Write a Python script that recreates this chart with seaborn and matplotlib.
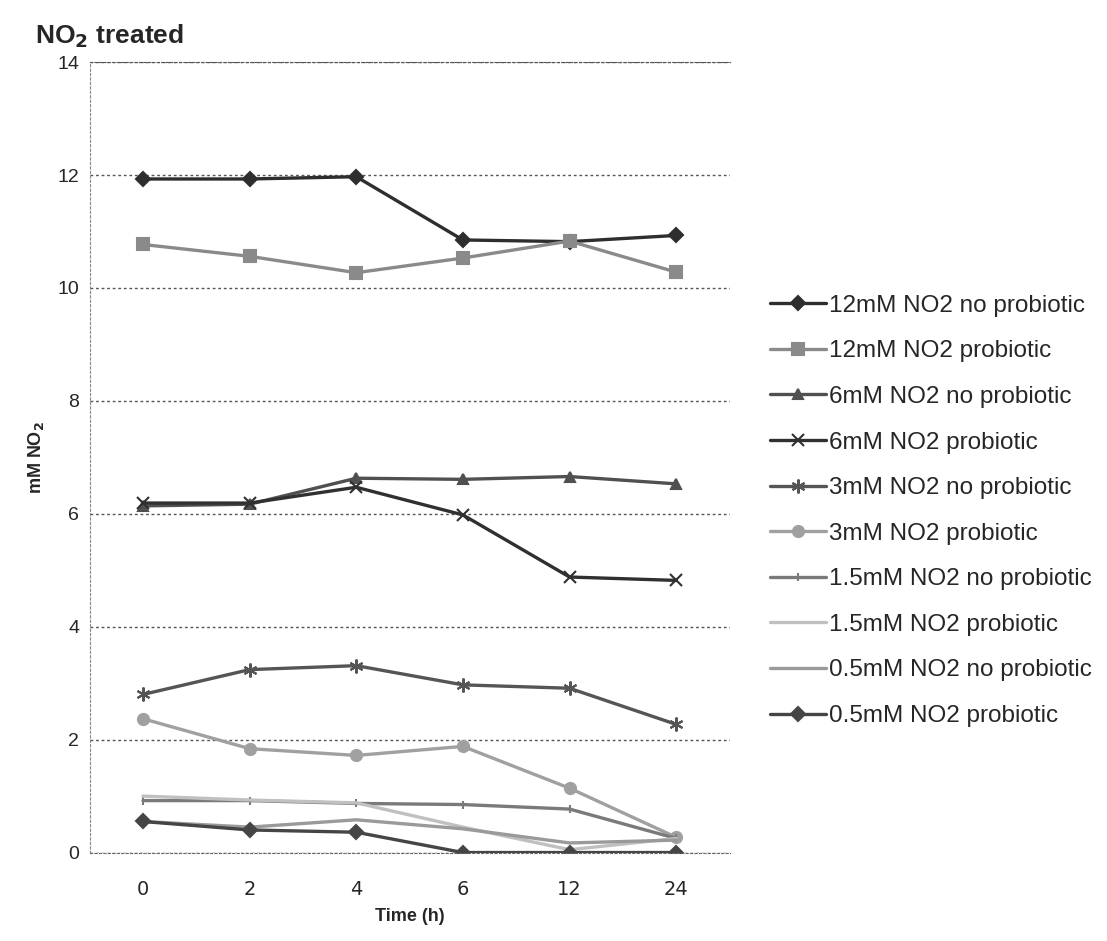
import numpy as np
import pandas as pd
import matplotlib
matplotlib.use("Agg")
import matplotlib.pyplot as plt
import seaborn as sns

# data
times = ["0", "2", "4", "6", "12", "24"]
series_names = [
    "12mM NO2 no probiotic", "12mM NO2 probiotic",
    "6mM NO2 no probiotic", "6mM NO2 probiotic",
    "3mM NO2 no probiotic", "3mM NO2 probiotic",
    "1.5mM NO2 no probiotic", "1.5mM NO2 probiotic",
    "0.5mM NO2 no probiotic", "0.5mM NO2 probiotic",
]
no2_12_no = [11.93, 11.93, 11.97, 10.85, 10.82, 10.93]
no2_12_pro = [10.77, 10.56, 10.27, 10.53, 10.83, 10.28]
no2_6_no = [6.14, 6.17, 6.63, 6.61, 6.66, 6.53]
no2_6_pro = [6.19, 6.19, 6.47, 5.98, 4.88, 4.82]
no2_3_no = [2.80, 3.24, 3.31, 2.97, 2.91, 2.27]
no2_3_pro = [2.37, 1.84, 1.72, 1.88, 1.14, 0.27]
no2_15_no = [0.92, 0.92, 0.87, 0.85, 0.77, 0.25]
no2_15_pro = [1.00, 0.93, 0.88, 0.45, 0.05, 0.25]
no2_05_no = [0.55, 0.45, 0.58, 0.42, 0.17, 0.22]
no2_05_pro = [0.55, 0.40, 0.36, 0.0, 0.0, 0.0]

all_vals = [no2_12_no, no2_12_pro, no2_6_no, no2_6_pro, no2_3_no,
            no2_3_pro, no2_15_no, no2_15_pro, no2_05_no, no2_05_pro]

colors = ["#2e2e2e", "#8a8a8a", "#505050", "#303030", "#555555",
          "#a0a0a0", "#7a7a7a", "#c0c0c0", "#9a9a9a", "#454545"]
markers = ["D", "s", "^", "x", (6, 2, 0), "o", "|", None, None, "D"]
msizes = [7, 9, 7, 9, 10, 8, 6, 0, 0, 7]

sns.set_style("white")
plt.rcParams["font.family"] = ["Liberation Sans", "DejaVu Sans"]

fig = plt.figure(figsize=(11.07, 9.41), dpi=100)
ax = fig.add_axes([0.081, 0.094, 0.578, 0.84])

pos = np.arange(len(times))
for name, vals, c, m, ms in zip(series_names, all_vals, colors, markers, msizes):
    sns.lineplot(x=pos, y=vals, ax=ax, color=c, linewidth=2.4, marker=m,
                 markersize=ms, markeredgecolor=c, markerfacecolor=c,
                 markeredgewidth=1.5, label=name)

ax.set_xlim(-0.5, 5.5)
ax.set_ylim(0, 14)
ax.set_yticks(np.arange(0, 15, 2))
ax.set_xticks(pos)
ax.set_xticklabels(times, fontsize=14, family="DejaVu Sans")
ax.tick_params(axis="y", labelsize=14, length=4, color="#777777")
ax.tick_params(axis="x", which="major", length=0, pad=20)
ax.set_xticks(np.arange(0.5, 5.5, 1), minor=True)
ax.tick_params(axis="x", which="minor", length=5, color="#777777", direction="out")

ax.yaxis.grid(True, linestyle=(0, (2, 2)), color="#555555", linewidth=1)
ax.xaxis.grid(False)
ax.spines["right"].set_visible(False)
ax.spines["top"].set_linestyle((0, (2, 2)))
ax.spines["top"].set_color("#555555")
ax.spines["left"].set_linestyle((0, (2, 2)))
ax.spines["left"].set_color("#888888")
ax.spines["bottom"].set_linestyle((0, (2, 2)))
ax.spines["bottom"].set_color("#666666")

ax.set_xlabel("Time (h)", fontsize=13, fontweight="bold", labelpad=6)
ax.set_ylabel("mM NO$_\\mathbf{2}$", fontsize=13, fontweight="bold", labelpad=8)

fig.text(0.032, 0.962, "NO$_\\mathbf{2}$ treated", fontsize=19, fontweight="bold",
         va="center", ha="left")

ax.legend(loc="upper left", bbox_to_anchor=(1.048, 0.718), frameon=False,
          fontsize=17.5, handlelength=2.3, handletextpad=0.15, labelspacing=0.97,
          borderaxespad=0)

fig.savefig("out.png", dpi=100)
